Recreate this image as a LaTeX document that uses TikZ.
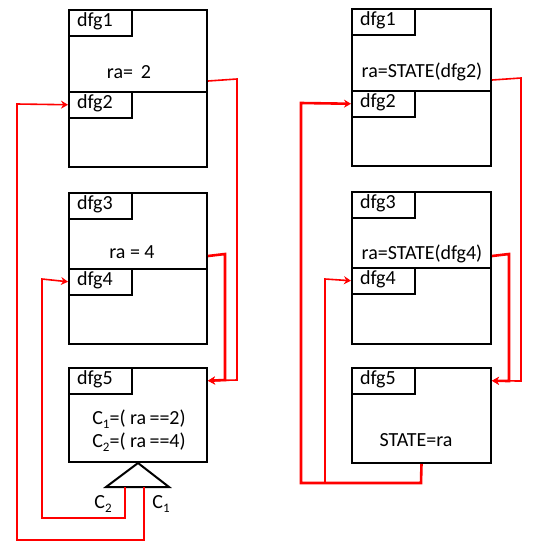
\documentclass[tikz,border=0pt]{standalone}
\usepackage{fontspec}
\setmainfont{Carlito}
\usetikzlibrary{arrows.meta}
% lowered small index, as in C_1
\newcommand\lowidx[1]{\raisebox{-0.45ex}{\fontsize{13}{13}\selectfont #1}}

\begin{document}
\begin{tikzpicture}[x=1pt,y=-1pt,
  font=\fontsize{20}{23}\selectfont,
  dfgbox/.style={draw, line width=2pt, anchor=north west, inner sep=0pt, minimum width=#1},
  dfgbox/.default=138pt,
  tab/.style={draw, line width=1.5pt, anchor=north west, inner sep=0pt,
    minimum width=63pt, minimum height=26pt,
    label={[inner sep=0pt, anchor=west, xshift=9pt, yshift=1pt]west:#1}},
  wire/.style={draw=red, line width=1.6pt},
  wirebold/.style={draw=red, line width=2.6pt},
  tip/.style={-{Stealth[length=7pt,width=8pt]}},
  lbl/.style={inner sep=0pt}
]
\useasboundingbox (0,0) rectangle (533,544);

% ---------------- left column ----------------
\node[dfgbox, minimum height=82pt] (L1) at (68,9) {};
\node[dfgbox, minimum height=75pt] (L2) at (68,91) {};
\node[tab=dfg1] (tL1) at (68,9) {};
\node[tab=dfg2] (tL2) at (68,91) {};
\node[lbl] (tx1) at (129,72) {ra=\, 2};

\node[dfgbox, minimum height=76pt] (L3) at (68,192) {};
\node[dfgbox, minimum height=75pt] (L4) at (68,268) {};
\node[tab=dfg3] (tL3) at (68,192) {};
\node[tab=dfg4] (tL4) at (68,268) {};
\node[lbl] (tx3) at (132,252) {ra = 4};

\node[dfgbox, minimum height=94pt] (L5) at (68,367) {};
\node[tab=dfg5] (tL5) at (68,367) {};
\node[lbl] (cA) at (139,419) {C\lowidx{1}=( ra\,==2)};
\node[lbl] (cB) at (139,442) {C\lowidx{2}=( ra\,==4)};

% selector triangle under dfg5
\coordinate (tb1) at (106,487);
\coordinate (tb2) at (169,487);
\draw[line width=2pt, line join=miter] (L5.south) -- (tb2) -- (tb1) -- cycle;
\coordinate (pC2) at (125,487);
\coordinate (pC1) at (144,487);
\node[lbl] (lC2) at (103,504) {C\lowidx{2}};
\node[lbl] (lC1) at (161,504) {C\lowidx{1}};

% left connectors
\coordinate (oL1) at ([yshift=12pt]L1.south east);
\coordinate (oL3) at ([yshift=14pt]L3.south east);
\path[wire, tip] (oL1) -- (237,79) -- (237,380) -- (L5.east |- tL5.west);
\path[wirebold, tip] (oL3) -- (225,254) -- (225,380) -- (L5.east |- tL5.west);
\path[wire, tip] (pC2) -- (125,518) -- (42,518) -- (42,279) -- (tL4.west);
\path[wire, tip] (pC1) -- (144,540) -- (17,540) -- (17,104) -- (tL2.west);

% ---------------- right column ----------------
\node[dfgbox=139pt, minimum height=82pt] (R1) at (351,8) {};
\node[dfgbox=139pt, minimum height=75pt] (R2) at (351,90) {};
\node[tab=dfg1] (tR1) at (351,8) {};
\node[tab=dfg2] (tR2) at (351,90) {};
\node[lbl] (tx2) at (422,72) {ra=STATE(dfg2)};

\node[dfgbox=139pt, minimum height=76pt] (R3) at (351,191) {};
\node[dfgbox=139pt, minimum height=76pt] (R4) at (351,267) {};
\node[tab=dfg3] (tR3) at (351,191) {};
\node[tab=dfg4] (tR4) at (351,267) {};
\node[lbl] (tx4) at (422,254) {ra=STATE(dfg4)};

\node[dfgbox=139pt, minimum height=95pt] (R5) at (351,367) {};
\node[tab=dfg5] (tR5) at (351,367) {};
\node[lbl] (tx5) at (416,440) {STATE=ra};

% right connectors
\coordinate (oR1) at ([yshift=12pt]R1.south east);
\coordinate (oR3) at ([yshift=13pt]R3.south east);
\coordinate (jR) at (325,483);
\path[wire, tip] (oR1) -- (521,78) -- (521,381) -- (R5.east |- tR5.west);
\path[wirebold, tip] (oR3) -- (509,254) -- (509,381) -- (R5.east |- tR5.west);
\path[wirebold, tip] (R5.south) -- (421,483) -- (301,483) -- (301,103) -- (tR2.west);
\path[wire, tip] (jR) -- (325,279) -- (tR4.west);
\end{tikzpicture}
\end{document}
